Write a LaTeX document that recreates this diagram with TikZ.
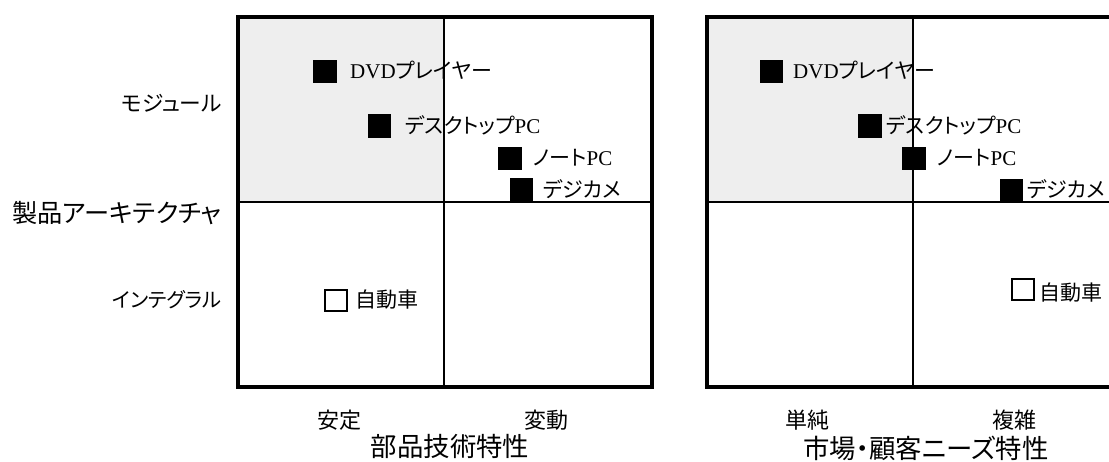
\documentclass[tikz,border=0pt]{standalone}
\usepackage{fontspec}
\setmainfont{Liberation Serif}
\newfontfamily\jp{Noto Sans CJK JP}
\newfontfamily\jpp[RawFeature=+palt]{Noto Sans CJK JP}
\definecolor{quad}{HTML}{EEEEEE}
\tikzset{
  frame/.style={line width=4pt, line join=miter},
  divider/.style={line width=1.6pt},
  quadfill/.style={fill=quad},
  filled/.style={fill=black, draw=none, minimum size=23.5pt, inner sep=0pt, outer sep=0pt},
  hollow/.style={draw=black, fill=white, line width=1.8pt, minimum size=21.5pt, inner sep=0pt, outer sep=0pt},
  itemlbl/.style={anchor=base west, inner sep=0pt, font=\fontsize{21}{21}\selectfont},
  axsmall/.style={inner sep=0pt, font=\jpp\fontsize{22}{22}\selectfont},
  axtitle/.style={inner sep=0pt, font=\jpp\fontsize{26.4}{26.4}\selectfont},
}
\begin{document}
\begin{tikzpicture}[x=1pt,y=-1pt]
\useasboundingbox (0,0) rectangle (1109,462);
% left chart
\fill[quadfill] (240,19) rectangle (444,202);
\draw[divider] (444,17) -- (444,387.5);
\draw[divider] (238,202) -- (651.5,202);
\draw[frame] (238,17) rectangle (651.5,387.5);
% right chart
\fill[quadfill] (709,19) rectangle (913,202);
\draw[divider] (913,17) -- (913,387.5);
\draw[divider] (707,202) -- (1125,202);
\draw[frame] (707,17) rectangle (1125,387.5);

% left markers
\node[filled] (ldvd) at (325,71.5) {};
\node[filled] (ldesk) at (379.5,126) {};
\node[filled] (lnote) at (510,158.5) {};
\node[filled] (lcam) at (521.5,189.5) {};
\node[hollow] (lcar) at (336,300.5) {};
\node[itemlbl] (ldvdt) at (350,79) {DVD{\jpp プレイヤー}};
\node[itemlbl] (ldeskt) at (405,133.5) {{\jpp デスクトップ}PC};
\node[itemlbl] (lnotet) at (533,166) {{\jpp ノート}PC};
\node[itemlbl] (lcamt) at (543,198) {\jpp デジカメ};
\node[itemlbl] (lcart) at (355,307.5) {\jp 自動車};

% right markers
\node[filled] (rdvd) at (771.5,71.5) {};
\node[filled] (rdesk) at (870,126) {};
\node[filled] (rnote) at (914,158.5) {};
\node[filled] (rcam) at (1011.5,190.5) {};
\node[hollow] (rcar) at (1023,289.5) {};
\node[itemlbl] (rdvdt) at (793,79) {DVD{\jpp プレイヤー}};
\node[itemlbl] (rdeskt) at (886,133.5) {{\jpp デスクトップ}PC};
\node[itemlbl] (rnotet) at (937,166) {{\jpp ノート}PC};
\node[itemlbl] (rcamt) at (1027,198) {\jpp デジカメ};
\node[itemlbl] (rcart) at (1039,300.5) {\jp 自動車};

% axis labels
\node[axsmall, anchor=east, font=\jpp\fontsize{21.7}{21.7}\selectfont] (mod) at (222,103) {モジュール};
\node[axtitle, anchor=east, font=\jpp\fontsize{25.2}{25.2}\selectfont] (arch) at (222,213) {製品アーキテクチャ};
\node[axsmall, anchor=east, font=\jpp\fontsize{20.3}{20.3}\selectfont] (integ) at (222,300) {インテグラル};
\node[axsmall] (stable) at (339,420) {安定};
\node[axsmall] (vary) at (546,420) {変動};
\node[axtitle] (tech) at (450,446) {部品技術特性};
\node[axsmall] (simple) at (807.5,420) {単純};
\node[axsmall] (complex) at (1014,420) {複雑};
\node[axtitle] (market) at (926,448) {市場・顧客ニーズ特性};
\end{tikzpicture}
\end{document}
